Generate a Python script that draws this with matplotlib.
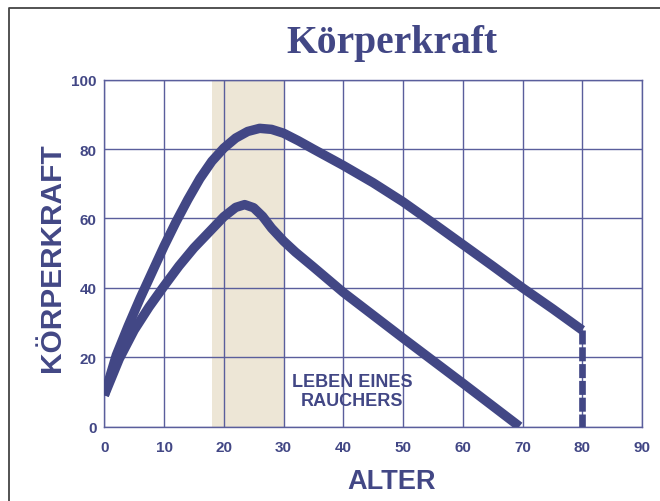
import matplotlib
matplotlib.use("Agg")
import matplotlib.pyplot as plt
from matplotlib.lines import Line2D

# ages (x) and strength (y)
alter_gesund = [0, 2, 4, 6, 8, 10, 12, 14, 16, 18, 20, 22, 24, 26, 28, 30,
                32.5, 35, 40, 45, 50, 55, 60, 65, 70, 75, 80]
kraft_gesund = [9, 20.5, 29, 37, 44.5, 52, 59, 65.5, 71.5, 76.5, 80.3, 83.2, 85.1, 86, 85.7, 84.6,
                82.4, 80, 75.3, 70.3, 64.8, 58.7, 52.5, 46.3, 40, 34, 27.8]

alter_raucher = [0, 2.5, 5, 7.5, 10, 12.5, 15, 17.5, 20, 22, 23.5, 25, 26.5, 28, 30,
                 32, 35, 40, 50, 60, 69.5]
kraft_raucher = [9, 19.5, 27.8, 34.5, 40.5, 46.3, 51.5, 56, 60.5, 63.2, 64, 63.1, 60.6, 57.2, 53.5,
                 50.3, 46, 38.7, 25.5, 12.5, 0]

# end of life marker (dashed drop at 80)
ende_x = [80, 80]
ende_y = [27.8, 0]

band = (18, 30)
x_ticks = list(range(0, 91, 10))
y_ticks = list(range(0, 101, 20))

navy = "#424785"
grid_col = "#5a5e9c"

plt.rcParams["font.family"] = ["Liberation Sans", "DejaVu Sans"]
plt.rcParams["font.weight"] = "bold"

fig = plt.figure(figsize=(6.6, 5.02), dpi=100)
ax = fig.add_axes([104.3 / 660, 74.5 / 502, (642 - 104.3) / 660, (427.5 - 80.8) / 502])

ax.axvspan(band[0], band[1], color="#ede6d6", lw=0, zorder=0.1)
ax.plot(alter_gesund, kraft_gesund, color=navy, lw=6.8, solid_joinstyle="round",
        solid_capstyle="butt", zorder=3)
ax.plot(alter_raucher, kraft_raucher, color=navy, lw=6.8, solid_joinstyle="round",
        solid_capstyle="butt", zorder=3)
ln, = ax.plot(ende_x, ende_y, color=navy, lw=4.8, zorder=3)
ln.set_dashes((2.1, 0.42))

ax.set_xlim(0, 90)
ax.set_ylim(0, 100)
ax.set_xticks(x_ticks)
ax.set_yticks(y_ticks)
ax.set_axisbelow(True)
ax.grid(True, color=grid_col, lw=1)
for s in ax.spines.values():
    s.set_color(grid_col)
    s.set_linewidth(1)
ax.tick_params(length=0, labelsize=11, labelcolor=navy)
ax.tick_params(axis="x", pad=10)
ax.tick_params(axis="y", pad=5.5)

ax.text(41.5, 10.2, "LEBEN EINES\nRAUCHERS", ha="center", va="center", fontsize=13,
        color=navy, linespacing=1.1, zorder=4)

fig.text(392 / 660, 1 - 44 / 502, "Körperkraft", ha="center", va="center",
         fontsize=28.5, fontweight="bold", color=navy, family="Liberation Serif")
fig.text(392 / 660, 1 - 482 / 502, "ALTER", ha="center", va="center",
         fontsize=19.5, color=navy)
fig.text(52 / 660, 1 - 258 / 502, "KÖRPERKRAFT", ha="center", va="center",
         rotation=90, fontsize=21.5, color=navy)

# outer frame (left and top edges)
fig.add_artist(Line2D([9.3 / 660, 9.3 / 660, 1], [0, 1 - 9.3 / 502, 1 - 9.3 / 502],
                      transform=fig.transFigure, color="#444444", lw=1.3))

fig.savefig("out.png", dpi=100)
